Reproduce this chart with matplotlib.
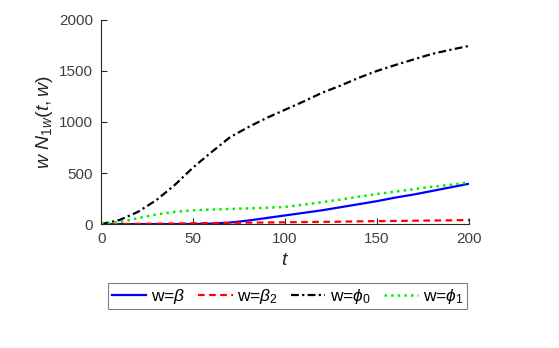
import matplotlib
matplotlib.use("Agg")
import matplotlib.pyplot as plt
import numpy as np

plt.rcParams['font.family'] = ['Liberation Sans', 'DejaVu Sans']
plt.rcParams['mathtext.fontset'] = 'custom'
plt.rcParams['mathtext.rm'] = 'Liberation Sans'
plt.rcParams['mathtext.it'] = 'Liberation Sans:italic'

t = [0, 10, 20, 30, 40, 50, 60, 70, 80, 90, 100, 110, 120, 130, 140, 150, 160, 170, 180, 190, 200]
beta = [0, 0, 0, 0, 0, 1, 5, 15, 35, 60, 85, 110, 135, 165, 195, 225, 260, 290, 325, 360, 395]
beta2 = [0, 1, 3, 4, 6, 8, 10, 12, 14, 16, 18, 20, 22, 24, 27, 29, 31, 33, 35, 37, 40]
phi0 = [0, 40, 120, 235, 383, 555, 705, 850, 950, 1040, 1120, 1200, 1285, 1355, 1432, 1500, 1558, 1613, 1667, 1707, 1745]
phi1 = [0, 20, 58, 95, 120, 135, 143, 148, 154, 160, 168, 190, 215, 240, 268, 295, 318, 342, 365, 385, 408]

fig = plt.figure(figsize=(5.59, 3.48), dpi=100)
ax = fig.add_axes([0.181, 0.356, 0.658, 0.587])

ax.plot(t, beta, '-', color='blue', lw=1.6, label=r'w=$\beta$')
ax.plot(t, beta2, '--', color='red', lw=1.6, dashes=[3, 2], label=r'w=$\beta_2$')
ax.plot(t, phi0, '-.', color='black', lw=1.6, dashes=[3.5, 1.5, 1, 1.5], label=r'w=$\phi_0$')
ax.plot(t, phi1, ':', color='#00ee00', lw=1.8, label=r'w=$\phi_1$')

ax.set_xlim(0, 200)
ax.set_ylim(0, 2000)
ax.set_xticks([0, 50, 100, 150, 200])
ax.set_yticks([0, 500, 1000, 1500, 2000])
ax.spines['top'].set_visible(False)
ax.spines['right'].set_visible(False)
for s in ['left', 'bottom']:
    ax.spines[s].set_color('#262626')
    ax.spines[s].set_linewidth(0.8)
ax.tick_params(direction='in', length=4, width=0.8, colors='#262626', labelsize=11, labelcolor='#404040', pad=6)

ax.set_xlabel(r'$t$', fontsize=14, color='#262626', labelpad=4)
ax.set_ylabel(r'$w\ N_{1w}(t,w)$', fontsize=14, color='#262626', labelpad=3)

leg = fig.legend(loc='center', bbox_to_anchor=(0.514, 0.149), ncol=4, fontsize=12.5,
                 handlelength=2.0, handletextpad=0.25, columnspacing=0.75,
                 fancybox=False, edgecolor='#808080', framealpha=1, borderpad=0.2)
leg.get_frame().set_linewidth(0.8)

fig.savefig('out.png', dpi=100)
